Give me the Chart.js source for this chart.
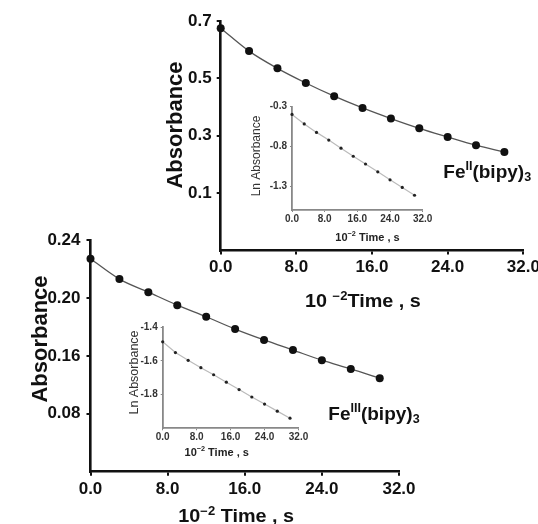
<!DOCTYPE html>
<html><head><meta charset="utf-8">
<script src="https://cdn.jsdelivr.net/npm/chart.js@4"></script>
<style>
html,body{margin:0;padding:0;background:#fff;}
#wrap{position:relative;width:538px;height:524px;overflow:hidden;background:#fff;}
canvas{position:absolute;left:0;top:0;}
</style></head><body>
<div id="wrap">
<canvas id="mainTop" width="538" height="524"></canvas>
<canvas id="mainBottom" width="538" height="524"></canvas>
<canvas id="insetTop" width="538" height="524"></canvas>
<canvas id="insetBottom" width="538" height="524"></canvas>
</div>
<script>
// ---- data ----
const times = [0, 3, 6, 9, 12, 15, 18, 21, 24, 27, 30];            // 10^-2 Time, s
const fe2Absorbance = [0.675, 0.595, 0.535, 0.484, 0.438, 0.397, 0.360, 0.326, 0.296, 0.267, 0.243];
const fe2LnAbsorbance = [-0.40, -0.519, -0.625, -0.722, -0.823, -0.925, -1.022, -1.120, -1.221, -1.317, -1.415];
const fe3Absorbance = [0.227, 0.213, 0.204, 0.195, 0.187, 0.1785, 0.171, 0.164, 0.157, 0.151, 0.1445];
const fe3LnAbsorbance = [-1.486, -1.550, -1.596, -1.640, -1.682, -1.726, -1.770, -1.814, -1.856, -1.898, -1.940];

// ---- tick values / labels ----
const timeTicks = [0, 8, 16, 24, 32];
const fe2AbsTicks = [0.1, 0.3, 0.5, 0.7];
const fe3AbsTicks = [0.12, 0.16, 0.20, 0.24];
const fe3AbsTickLabels = ['0.08', '0.16', '0.20', '0.24'];
const fe2LnTicks = [-1.3, -0.8, -0.3];
const fe3LnTicks = [-1.8, -1.6, -1.4];

const FONT = "'Liberation Sans', Arial, Helvetica, sans-serif";

function pts(xs, ys) { return xs.map((x, i) => ({ x: x, y: ys[i] })); }

function textPlugin(name, items) {
  return {
    id: name,
    afterDraw(chart) {
      const ctx = chart.ctx;
      items.forEach(it => {
        ctx.save();
        ctx.fillStyle = it.color || '#111';
        ctx.textBaseline = 'alphabetic';
        ctx.textAlign = 'left';
        const w = it.weight || 'bold';
        const fontFor = p => w + ' ' + ((p.sup || p.sub) ? it.size * 0.66 : it.size) + 'px ' + FONT;
        const widths = it.parts.map(p => { ctx.font = fontFor(p); return ctx.measureText(p.t).width; });
        const total = widths.reduce((a, b) => a + b, 0);
        ctx.translate(it.x, it.y);
        if (it.rot) ctx.rotate(it.rot);
        ctx.scale(it.sx || 1, 1);
        let x = it.align === 'center' ? -total / 2 : 0;
        it.parts.forEach((p, i) => {
          ctx.font = fontFor(p);
          const dy = p.sup ? -it.size * 0.42 : (p.sub ? it.size * 0.16 : 0);
          ctx.fillText(p.t, x, dy);
          x += widths[i];
        });
        ctx.restore();
      });
    }
  };
}

function fixY(w) { return s => { s.width = w; s.paddingTop = 0; s.paddingBottom = 0; }; }
function fixX(h) { return s => { s.height = h; s.paddingLeft = 0; s.paddingRight = 0; }; }
function setTicks(vals) { return s => { s.ticks = vals.map(v => ({ value: v })); }; }

function mainScales(yMin, yMax, yTicks, yCb, yPad) {
  const axisCol = '#111';
  return {
    x: {
      type: 'linear', min: 0, max: 32,
      afterBuildTicks: setTicks(timeTicks), afterFit: fixX(40),
      border: { display: true, color: axisCol, width: 2.6 },
      grid: { display: true, drawOnChartArea: false, drawTicks: true, tickLength: 4, color: axisCol, lineWidth: 2 },
      ticks: { color: '#111', font: { family: FONT, size: 17, weight: 'bold' }, padding: 3,
               maxRotation: 0, autoSkip: false, callback: v => Number(v).toFixed(1) }
    },
    y: {
      type: 'linear', min: yMin, max: yMax,
      afterBuildTicks: setTicks(yTicks), afterFit: fixY(60),
      border: { display: true, color: axisCol, width: 2.6 },
      grid: { display: true, drawOnChartArea: false, drawTicks: true, tickLength: 4, color: axisCol, lineWidth: 2 },
      ticks: { color: '#111', font: { family: FONT, size: 17, weight: 'bold' }, padding: yPad,
               autoSkip: false, callback: yCb }
    }
  };
}

function insetScales(yMin, yMax, yTicks) {
  const axisCol = '#888';
  const tf = { family: FONT, size: 10, weight: 'bold' };
  return {
    x: {
      type: 'linear', min: 0, max: 32,
      afterBuildTicks: setTicks(timeTicks), afterFit: fixX(20),
      border: { display: true, color: axisCol, width: 1.8 },
      grid: { display: true, drawOnChartArea: false, drawTicks: true, tickLength: 2, color: axisCol, lineWidth: 1 },
      ticks: { color: '#333', font: tf, padding: 1, maxRotation: 0, autoSkip: false,
               callback: v => Number(v).toFixed(1) }
    },
    y: {
      type: 'linear', min: yMin, max: yMax,
      afterBuildTicks: setTicks(yTicks), afterFit: fixY(30),
      border: { display: true, color: axisCol, width: 1.8 },
      grid: { display: true, drawOnChartArea: false, drawTicks: true, tickLength: 2, color: axisCol, lineWidth: 1 },
      ticks: { color: '#333', font: tf, padding: 3, autoSkip: false,
               callback: v => Number(v).toFixed(1) }
    }
  };
}

const common = {
  responsive: false, animation: false, events: [], devicePixelRatio: 1,
  plugins: { legend: { display: false }, tooltip: { enabled: false }, title: { display: false } }
};

function mainDataset(ys) {
  return {
    data: pts(times, ys), borderColor: '#555', borderWidth: 1.3, fill: false,
    cubicInterpolationMode: 'monotone', pointRadius: 4, pointBackgroundColor: '#111',
    pointBorderColor: '#111', pointBorderWidth: 0, clip: false
  };
}
function insetDataset(ys) {
  return {
    data: pts(times, ys), borderColor: '#bbb', borderWidth: 1.2, fill: false, tension: 0,
    pointRadius: 1.6, pointBackgroundColor: '#222', pointBorderColor: '#222', pointBorderWidth: 0, clip: false
  };
}

// ---- Fe(II) main ----
new Chart(document.getElementById('mainTop'), {
  type: 'line',
  data: { datasets: [mainDataset(fe2Absorbance)] },
  options: Object.assign({}, common, {
    layout: { padding: { left: 160.7, top: 21, right: 14.7, bottom: 233.5 } },
    scales: mainScales(-0.1, 0.7, fe2AbsTicks, v => Number(v).toFixed(1), 5)
  }),
  plugins: [textPlugin('txtTop', [
    { parts: [{ t: 'Absorbance' }], x: 182, y: 125, rot: -Math.PI / 2, align: 'center', size: 22 },
    { parts: [{ t: '10 ' }, { t: '\u22122', sup: true }, { t: 'Time , s' }], x: 305, y: 307.3, size: 18, sx: 1.1 },
    { parts: [{ t: 'Fe' }, { t: 'II', sup: true }, { t: '(bipy)' }, { t: '3', sub: true }], x: 443.3, y: 178.3, size: 19 }
  ])]
});

// ---- Fe(III) main ----
new Chart(document.getElementById('mainBottom'), {
  type: 'line',
  data: { datasets: [mainDataset(fe3Absorbance)] },
  options: Object.assign({}, common, {
    layout: { padding: { left: 30.5, top: 240, right: 139, bottom: 12.3 } },
    scales: mainScales(0.08, 0.24, fe3AbsTicks, (v, i) => fe3AbsTickLabels[i], 6)
  }),
  plugins: [textPlugin('txtBottom', [
    { parts: [{ t: 'Absorbance' }], x: 47, y: 339, rot: -Math.PI / 2, align: 'center', size: 22 },
    { parts: [{ t: '10' }, { t: '\u22122', sup: true }, { t: ' Time , s' }], x: 178.3, y: 522.3, size: 18, sx: 1.1 },
    { parts: [{ t: 'Fe' }, { t: 'III', sup: true }, { t: '(bipy)' }, { t: '3', sub: true }], x: 328.3, y: 420, size: 19 }
  ])]
});

// ---- Fe(II) inset ----
new Chart(document.getElementById('insetTop'), {
  type: 'line',
  data: { datasets: [insetDataset(fe2LnAbsorbance)] },
  options: Object.assign({}, common, {
    layout: { padding: { left: 262, top: 106.5, right: 115.3, bottom: 294 } },
    scales: insetScales(-1.6, -0.3, fe2LnTicks)
  }),
  plugins: [textPlugin('txtInsetTop', [
    { parts: [{ t: 'Ln Absorbance' }], x: 259.5, y: 156, rot: -Math.PI / 2, align: 'center', size: 12, weight: 'normal', color: '#333' },
    { parts: [{ t: '10' }, { t: '\u22122', sup: true }, { t: ' Time , s' }], x: 367.5, y: 240.5, align: 'center', size: 11, color: '#222' }
  ])]
});

// ---- Fe(III) inset ----
new Chart(document.getElementById('insetBottom'), {
  type: 'line',
  data: { datasets: [insetDataset(fe3LnAbsorbance)] },
  options: Object.assign({}, common, {
    layout: { padding: { left: 132.7, top: 327.3, right: 239.5, bottom: 75.7 } },
    scales: insetScales(-2.0, -1.4, fe3LnTicks)
  }),
  plugins: [textPlugin('txtInsetBottom', [
    { parts: [{ t: 'Ln Absorbance' }], x: 137.5, y: 372.5, rot: -Math.PI / 2, align: 'center', size: 12.5, weight: 'normal', color: '#333' },
    { parts: [{ t: '10' }, { t: '\u22122', sup: true }, { t: ' Time , s' }], x: 216.7, y: 455.7, align: 'center', size: 11, color: '#222' }
  ])]
});
</script>
</body></html>
